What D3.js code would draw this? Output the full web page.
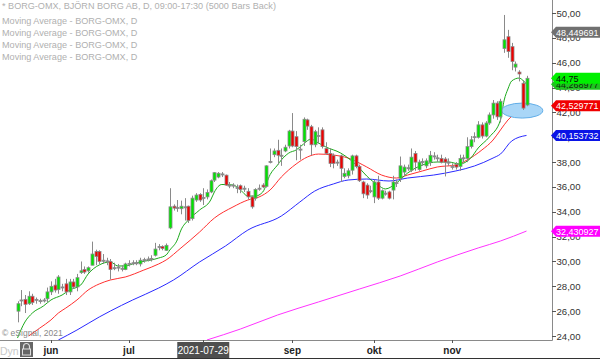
<!DOCTYPE html>
<html><head><meta charset="utf-8">
<script src="https://cdn.jsdelivr.net/npm/d3@7"></script>
<style>body{margin:0;background:#fff;} svg{display:block;font-family:"Liberation Sans",Arial,sans-serif;}</style>
</head><body><svg id="c" width="600" height="359"></svg>
<script>
// ---------- DATA ----------
const opens  = [26.0,26.85,26.95,26.6,27.2,26.9,26.85,26.85,27.0,27.55,28.1,27.75,27.9,28.2,27.55,28.35,27.95,29.1,29.35,29.25,29.7,30.8,30.8,30.05,30.0,30.0,29.45,29.5,29.4,29.35,29.8,29.85,29.85,29.8,30.1,30.15,30.2,30.5,31.15,31.2,30.9,32.7,34.45,34.35,34.25,34.4,34.45,33.45,34.95,35.4,35.1,35.2,35.6,36.55,36.8,37.05,36.95,36.15,36.1,35.9,36.1,35.85,35.65,35.2,35.1,35.85,36.15,36.05,38.05,38.6,38.95,38.5,38.9,39.3,40.5,40.05,39.0,39.65,41.4,40.85,39.4,40.1,40.6,39.1,38.7,38.55,37.95,38.5,36.85,36.9,37.35,38.5,37.65,36.4,36.15,35.65,35.2,36.4,35.1,35.45,35.6,35.75,36.3,36.7,37.2,37.5,37.35,38.7,37.4,38.0,37.7,38.0,38.45,38.3,38.3,38.25,37.95,37.6,37.8,37.65,38.3,38.3,39.25,40.0,40.0,41.0,40.1,41.15,41.8,42.75,41.65,47.15,48.1,47.3,45.65,45.25,44.35,42.6];
const highs  = [26.8,27.7,27.3,27.6,27.4,27.1,27.0,27.05,27.9,28.4,28.6,28.9,28.2,28.6,28.6,28.6,29.0,30.0,29.6,29.6,31.6,30.95,30.9,30.6,30.3,30.2,29.9,29.8,29.7,29.9,30.1,30.1,30.1,30.3,30.3,30.4,30.5,31.5,31.4,31.3,31.45,35.9,34.6,34.95,34.9,35.1,34.5,35.3,35.5,35.5,35.9,35.8,36.6,37.2,37.2,37.2,37.0,36.4,36.3,36.2,36.2,36.1,35.9,35.3,35.9,36.2,36.3,37.75,39.1,39.1,39.8,39.1,39.4,40.6,41.95,40.5,39.4,41.6,41.5,41.0,40.6,40.8,40.8,39.6,39.1,38.7,38.2,38.6,37.5,37.5,38.6,38.6,37.8,36.5,36.3,36.1,36.6,36.9,35.8,35.7,35.7,36.9,36.6,38.45,37.8,37.8,39.1,38.9,38.2,38.3,38.3,38.9,38.8,38.6,38.6,38.4,38.3,37.9,38.0,38.6,38.6,40.0,40.1,40.4,41.3,41.2,41.3,42.0,43.0,42.9,43.1,49.85,48.65,47.6,46.1,45.4,44.6,44.95];
const lows   = [25.1,26.4,25.85,26.5,26.5,26.6,26.6,26.7,26.7,27.3,27.5,27.4,27.6,27.3,27.3,27.8,27.6,29.0,29.0,29.1,29.7,29.7,29.8,29.8,29.7,28.55,29.3,29.2,29.2,29.3,29.6,29.7,29.7,29.6,29.9,30.0,30.0,30.4,30.9,30.9,30.85,32.6,34.1,34.0,33.8,33.3,33.1,33.3,34.8,34.8,34.55,35.0,35.5,36.4,36.7,36.8,36.1,35.9,35.9,35.5,35.5,35.6,35.0,34.25,34.9,35.7,35.9,35.95,37.9,38.4,37.8,37.7,38.8,39.1,39.2,38.15,38.2,39.3,40.6,38.55,39.2,39.5,39.1,38.6,37.6,37.5,37.7,36.4,36.7,36.7,37.0,37.5,36.4,35.1,35.05,35.5,34.7,34.95,35.0,35.3,35.0,35.0,36.0,36.4,36.9,37.3,37.2,37.3,37.3,37.7,37.5,37.7,38.2,38.0,37.9,36.85,37.7,37.4,37.4,37.3,38.0,38.0,39.1,39.6,39.9,39.9,40.0,41.0,41.5,41.4,41.2,46.8,46.4,45.4,45.3,44.5,42.2,42.5];
const closes = [26.6,26.9,26.55,27.2,26.7,26.95,26.8,26.9,27.55,28.0,27.7,28.75,27.95,27.55,28.35,27.95,28.7,29.25,29.15,29.5,30.6,30.4,30.0,30.1,30.05,29.35,29.5,29.55,29.45,29.8,29.85,29.9,29.9,30.1,30.15,30.2,30.25,31.0,31.2,31.05,31.3,34.4,34.3,34.3,34.45,34.35,33.3,35.1,35.35,34.95,35.15,35.55,36.5,37.15,37.1,37.0,36.15,36.1,36.15,35.95,35.8,35.9,35.2,34.4,35.8,35.9,36.0,37.7,38.0,38.9,38.55,38.55,39.2,40.5,39.3,39.25,39.05,41.45,40.9,39.4,40.45,40.15,39.25,38.7,37.9,37.9,38.0,37.5,37.1,37.3,38.5,37.65,36.5,35.45,35.35,35.7,36.4,35.1,35.7,35.5,35.1,36.4,36.35,37.7,37.6,37.55,38.4,38.0,38.0,38.05,38.1,38.55,38.5,38.35,38.0,38.0,38.0,37.65,37.6,38.3,38.35,39.25,39.8,40.05,41.0,40.1,41.15,41.8,42.75,41.65,42.9,47.85,46.9,46.1,45.9,45.1,42.35,44.75];

// moving averages (bar index, value)
const maGreenIdx = [0,2,4,7,9,12,14,17,19,22,25,27,29,31,33,36,38,40,41,43,44,46,49,52,53,55,58,60,62,64,66,68,70,71,73,75,77,79,81,83,87,90,92,94,97,99,102,105,109,113,116,119,122,124,127,130,131,132,133,135,136,137];
const maGreenVal = [23.84,25.13,25.85,26.42,26.9,27.3,27.7,28.1,28.99,29.72,29.96,29.64,29.64,29.8,29.96,30.12,30.28,30.52,30.92,31.73,32.53,33.34,34.14,34.95,35.6,36.2,36.16,35.76,35.27,35.27,35.59,37.0,37.77,38.17,38.73,38.98,39.46,39.86,39.54,39.22,38.73,38.09,37.53,36.88,36.16,35.84,36.32,37.12,37.77,38.01,38.01,37.85,38.33,39.14,40.02,41.39,43.0,43.89,44.53,44.77,44.6,44.27];
const maRedIdx = [3,6,9,11,13,16,19,22,25,29,34,38,40,44,49,53,58,62,65,68,71,75,78,81,85,89,94,98,102,105,109,113,118,121,125,128,130,132,134,137];
const maRedVal = [24.0,24.64,25.29,25.85,26.25,26.9,27.7,28.19,28.51,28.75,29.31,29.8,30.12,31.09,32.37,33.5,34.39,34.95,35.19,35.76,36.8,37.85,38.41,38.65,38.57,38.33,37.61,36.96,36.72,36.96,37.29,37.61,37.77,38.17,38.98,39.78,40.59,41.39,41.95,42.53];
const maBlueIdx = [11,16,22,25,31,38,42,49,56,62,71,76,80,85,89,94,100,105,112,118,123,128,130,133,137];
const maBlueVal = [23.68,24.48,25.53,26.01,26.9,27.86,28.51,29.96,31.25,32.53,33.66,34.79,35.67,36.24,36.56,36.64,36.48,36.72,36.96,37.29,37.69,38.33,38.65,39.7,40.15];
const maMagIdx = [51,60,70,81,92,103,113,124,130,137];
const maMagVal = [23.68,24.56,25.69,26.74,27.78,28.83,29.96,31.09,31.65,32.45];

const yTickValues = [24,26,28,30,32,34,36,38,40,42,44,46,48,50];
const monthTickIdx = [9,30,74,96,117];
const monthLabels = ["jun","jul","sep","okt","nov"];
const cursorIdx = 50, cursorLabel = "2021-07-29";
const legendLines = ["* BORG-OMX, BJÖRN BORG AB, D, 09:00-17:30 (5000 Bars Back)","Moving Average - BORG-OMX, D","Moving Average - BORG-OMX, D","Moving Average - BORG-OMX, D","Moving Average - BORG-OMX, D"];
const priceLabelValues = [48.449691, 44.268977, 44.75, 42.529771, 40.153732, 32.430927];
const priceLabelKeys = ["gray","green2","green","red","blue","magenta"];

// ---------- STYLES ----------
const labelStyle = {
  gray:{bg:"#707070",fg:"#ffffff"}, green2:{bg:"#1fc41f",fg:"#0a2a0a"}, green:{bg:"#00f000",fg:"#0a0a0a"},
  red:{bg:"#f00000",fg:"#ffffff"}, blue:{bg:"#0a14e6",fg:"#ffffff"}, magenta:{bg:"#ff00ff",fg:"#ffffff"}
};

const svg = d3.select("#c");
const plotR = 552, plotB = 340;
const x = d3.scaleLinear().domain([0, closes.length-1]).range([17.5, 526.5]);
const y = d3.scaleLinear().domain([24,50]).range([336, 13.1]);

svg.append("defs").append("clipPath").attr("id","pc").append("rect").attr("x",0).attr("y",0).attr("width",plotR).attr("height",plotB);

// legend
svg.append("g").selectAll("text").data(legendLines).join("text")
  .attr("x",2).attr("y",(d,i)=> i===0 ? 8.5 : 23.5 + (i-1)*12)
  .attr("font-size","9.1px").attr("fill","#b0b0b0").text(d=>d);

const plot = svg.append("g").attr("clip-path","url(#pc)");

// MA lines
const line = d3.line().x(d=>x(d[0])).y(d=>y(d[1])).curve(d3.curveMonotoneX);
const mas = [
  [maMagIdx, maMagVal, "#ff33ff"],
  [maBlueIdx, maBlueVal, "#2a2aff"],
  [maRedIdx, maRedVal, "#ff3030"],
  [maGreenIdx, maGreenVal, "#1caa1c"]
];
mas.forEach(([ix, vs, col])=>{
  plot.append("path").datum(ix.map((d,i)=>[d, vs[i]]))
    .attr("d", line).attr("fill","none").attr("stroke",col).attr("stroke-width",1);
});

// highlight ellipse
plot.append("ellipse").attr("cx", x(136)-0.5).attr("cy", y(42.15)).attr("rx",20.5).attr("ry",7.5)
  .attr("fill","#a9d6f7").attr("stroke","#62aee8").attr("stroke-width",1);

// candles
const idx = d3.range(closes.length);
const cg = plot.append("g");
cg.selectAll("line").data(idx).join("line")
  .attr("x1", i=>Math.round(x(i))+0.5).attr("x2", i=>Math.round(x(i))+0.5)
  .attr("y1", i=>y(highs[i])).attr("y2", i=>y(lows[i]))
  .attr("stroke","#8a8a8a").attr("stroke-width",1);
cg.selectAll("rect").data(idx).join("rect")
  .attr("x", i=>Math.round(x(i))-1)
  .attr("y", i=>Math.min(y(opens[i]),y(closes[i])))
  .attr("width",3)
  .attr("height", i=>Math.max(1, Math.abs(y(opens[i])-y(closes[i]))))
  .attr("fill", i=>{ const d=closes[i]-opens[i]; if (Math.abs(d)<0.08) return "#8a8a8a"; return d>0 ? "#00e600" : "#f00000"; })
  .attr("stroke","#8a8a8a").attr("stroke-width",0.8);

// axes frame
svg.append("line").attr("x1",plotR+0.5).attr("x2",plotR+0.5).attr("y1",0).attr("y2",plotB+0.5).attr("stroke","#8a8a8a");
svg.append("line").attr("x1",0).attr("x2",plotR+0.5).attr("y1",plotB+0.5).attr("y2",plotB+0.5).attr("stroke","#8a8a8a");
svg.append("line").attr("x1",0).attr("x2",600).attr("y1",358.5).attr("y2",358.5).attr("stroke","#333");

// right axis
const yAxis = svg.append("g");
yTickValues.forEach(v=>{
  yAxis.append("line").attr("x1",plotR).attr("x2",plotR+4).attr("y1",Math.round(y(v))+0.5).attr("y2",Math.round(y(v))+0.5).attr("stroke","#555");
  yAxis.append("text").attr("x",plotR+4.5).attr("y",y(v)+3.5).attr("font-size","9.6px").attr("fill","#333")
    .text(d3.format(".2f")(v).replace(".",","));
});

// price labels
priceLabelValues.forEach((v,i)=>{
  const st = labelStyle[priceLabelKeys[i]];
  const yc = y(v);
  svg.append("path").attr("d",`M${plotR-1},${yc} L${plotR+4},${yc-5.5} L600,${yc-5.5} L600,${yc+5.5} L${plotR+4},${yc+5.5} Z`).attr("fill",st.bg);
  svg.append("text").attr("x",plotR+4).attr("y",yc+3.5).attr("font-size","9px").attr("fill",st.fg)
    .text(String(v).replace(".",","));
});

// bottom axis
const xa = svg.append("g");
monthTickIdx.forEach((m,i)=>{
  const xx = Math.round(x(m))+0.5;
  xa.append("line").attr("x1",xx).attr("x2",xx).attr("y1",plotB).attr("y2",plotB+3).attr("stroke","#555");
  xa.append("text").attr("x",x(m)).attr("y",354).attr("text-anchor","middle").attr("font-size","10px").attr("font-weight","bold").attr("fill","#222").text(monthLabels[i]);
});
const cx = x(cursorIdx);
xa.append("line").attr("x1",Math.round(cx)+0.5).attr("x2",Math.round(cx)+0.5).attr("y1",plotB).attr("y2",plotB+3).attr("stroke","#555");
xa.append("rect").attr("x",cx-26).attr("y",342).attr("width",52).attr("height",16).attr("fill","#4f4f4f");
xa.append("text").attr("x",cx).attr("y",354).attr("text-anchor","middle").attr("font-size","10px").attr("fill","#fff").text(cursorLabel);

// footer bits
svg.append("text").attr("x",2).attr("y",336).attr("font-size","8.5px").attr("fill","#888").text("© eSignal, 2021");
svg.append("text").attr("x",0).attr("y",355).attr("font-size","10.5px").attr("fill","#c8c8c8").text("Dyn");
svg.append("rect").attr("x",20).attr("y",342).attr("width",13).attr("height",15).attr("fill","#666");
svg.append("path").attr("d","M23.5,349 v-2.5 a3,3 0 0 1 6,0 v2.5").attr("fill","none").attr("stroke","#ddd").attr("stroke-width",1.2);
svg.append("rect").attr("x",22.5).attr("y",349).attr("width",8).attr("height",6).attr("fill","none").attr("stroke","#ddd").attr("stroke-width",1);
</script></body></html>
